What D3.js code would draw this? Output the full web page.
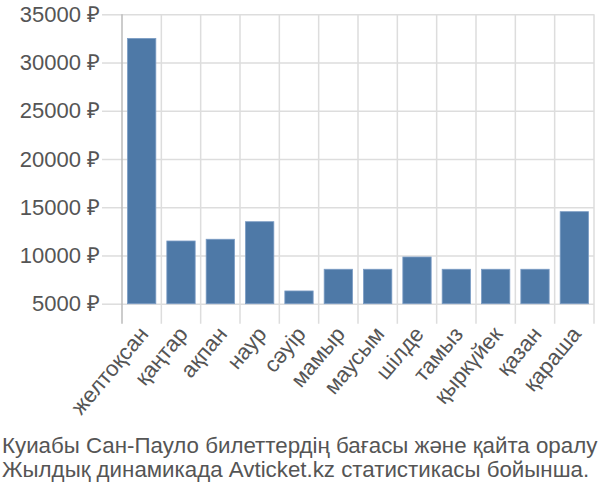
<!DOCTYPE html>
<html lang="kk">
<head>
<meta charset="utf-8">
<title>Avticket chart</title>
<script src="https://cdn.jsdelivr.net/npm/d3@7"></script>
<style>
  body { margin: 0; background: #fff; }
  svg text { font-family: "Liberation Sans", Arial, sans-serif; fill: #555; }
</style>
</head>
<body>
<script>
// months (Kazakh) and ticket prices in roubles
var months = ["желтоқсан", "қаңтар", "ақпан", "наур", "сәуір", "мамыр",
              "маусым", "шілде", "тамыз", "қыркүйек", "қазан", "қараша"];
var prices = [32500, 11500, 11680, 13500, 6320, 8570,
              8570, 9840, 8570, 8570, 8570, 14540];
var yTicks = [5000, 10000, 15000, 20000, 25000, 30000, 35000];
var caption = ["Куиабы Сан-Пауло билеттердің бағасы және қайта оралу",
               "Жылдық динамикада Avticket.kz статистикасы бойынша."];

var w = 600, h = 500;
var plotLeft = 122, plotRight = 594, plotTop = 14.3, plotBottom = 303.7;

var svg = d3.select("body").append("svg")
    .attr("width", w)
    .attr("height", h);

var x = d3.scaleBand()
    .domain(months)
    .range([plotLeft, plotRight])
    .paddingInner(0.28)
    .paddingOuter(0.14);

var y = d3.scaleLinear()
    .domain([5000, 35000])
    .range([plotBottom, plotTop]);

// horizontal grid + y labels
var yAxis = svg.append("g")
    .attr("transform", "translate(" + plotLeft + ",0)")
    .call(d3.axisLeft(y).tickValues(yTicks)
        .tickSize(20)
        .tickPadding(2)
        .tickFormat(function(d) { return d + " ₽"; }));
yAxis.select(".domain").remove();
yAxis.selectAll(".tick line").clone()
    .attr("x2", plotRight - plotLeft);
yAxis.selectAll(".tick line").attr("stroke", "#ddd").attr("stroke-width", 1.5);
yAxis.selectAll("text").attr("font-size", "22px").attr("fill", "#555");

// vertical grid lines at band edges
var edges = months.map(function(m) { return x(m) - x.step() * x.paddingInner() / 2; });
edges.push(plotRight);
svg.append("g").selectAll("line")
    .data(edges)
    .enter().append("line")
    .attr("x1", function(d) { return d; })
    .attr("x2", function(d) { return d; })
    .attr("y1", plotTop)
    .attr("y2", plotBottom + 20)
    .attr("stroke", function(d, i) { return i === 0 ? "#bbb" : "#ddd"; })
    .attr("stroke-width", 1.5);

// bars
svg.selectAll("rect.bar")
    .data(prices)
    .enter().append("rect")
    .attr("class", "bar")
    .attr("x", function(d, i) { return x(months[i]); })
    .attr("y", function(d) { return y(d); })
    .attr("width", x.bandwidth())
    .attr("height", function(d) { return plotBottom - y(d); })
    .attr("fill", "#4e79a7")
    .attr("stroke", "#7b9cc4")
    .attr("stroke-width", 0.8);

// x labels, rotated
var xAxis = svg.append("g")
    .attr("transform", "translate(0," + (plotBottom + 20) + ")")
    .call(d3.axisBottom(x).tickSize(0).tickPadding(0));
xAxis.select(".domain").remove();
xAxis.selectAll("text")
    .attr("font-size", "22px")
    .attr("fill", "#555")
    .attr("text-anchor", "end")
    .attr("dy", "0.35em")
    .attr("transform", "translate(2,6) rotate(-50)");

// caption
svg.append("g").selectAll("text")
    .data(caption)
    .enter().append("text")
    .attr("x", 2)
    .attr("y", function(d, i) { return 453 + i * 24; })
    .attr("font-size", "22.3px")
    .text(function(d) { return d; });
</script>
</body>
</html>
